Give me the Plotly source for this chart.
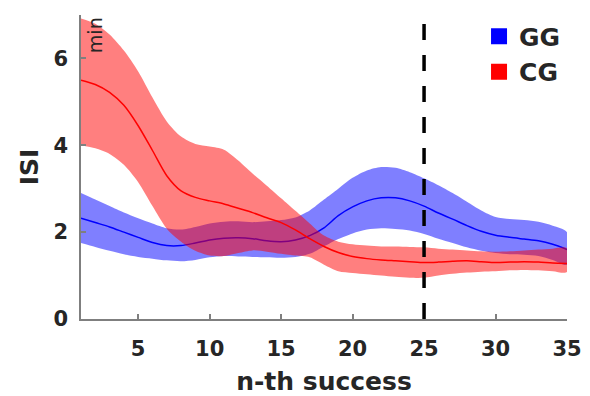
import plotly.graph_objects as go

# ---- data ----
n_success = list(range(1, 36))

gg_mean = [2.32, 2.22, 2.12, 2.00, 1.88, 1.76, 1.69, 1.69, 1.75, 1.82, 1.86, 1.87, 1.85, 1.80, 1.78,
           1.82, 1.92, 2.10, 2.38, 2.58, 2.72, 2.79, 2.79, 2.72, 2.60, 2.44, 2.30, 2.15, 2.02, 1.93,
           1.88, 1.84, 1.80, 1.72, 1.60]
gg_upper = [2.90, 2.75, 2.60, 2.45, 2.32, 2.20, 2.09, 2.06, 2.12, 2.20, 2.24, 2.25, 2.23, 2.25, 2.28,
            2.34, 2.50, 2.75, 3.00, 3.25, 3.42, 3.50, 3.48, 3.38, 3.24, 3.08, 2.90, 2.70, 2.50, 2.35,
            2.30, 2.28, 2.24, 2.15, 2.00]
gg_lower = [1.75, 1.66, 1.57, 1.49, 1.43, 1.39, 1.35, 1.33, 1.36, 1.42, 1.45, 1.44, 1.43, 1.42, 1.41,
            1.43, 1.50, 1.67, 1.84, 1.97, 2.06, 2.09, 2.07, 2.04, 1.96, 1.85, 1.75, 1.65, 1.57, 1.52,
            1.49, 1.48, 1.45, 1.36, 1.25]

cg_mean = [5.50, 5.40, 5.22, 4.92, 4.45, 3.88, 3.30, 2.95, 2.80, 2.72, 2.65, 2.55, 2.45, 2.33, 2.22,
           2.05, 1.85, 1.67, 1.53, 1.44, 1.39, 1.36, 1.34, 1.32, 1.30, 1.31, 1.33, 1.34, 1.32, 1.30,
           1.31, 1.32, 1.31, 1.29, 1.28]
cg_upper = [6.92, 6.80, 6.55, 6.18, 5.70, 5.10, 4.55, 4.20, 4.03, 3.97, 3.90, 3.65, 3.35, 3.07, 2.78,
            2.49, 2.20, 1.92, 1.78, 1.72, 1.69, 1.67, 1.67, 1.66, 1.65, 1.62, 1.60, 1.58, 1.56, 1.55,
            1.56, 1.58, 1.60, 1.62, 1.63]
cg_lower = [4.00, 3.93, 3.80, 3.55, 3.15, 2.60, 2.08, 1.78, 1.57, 1.46, 1.45, 1.52, 1.58, 1.55, 1.50,
            1.46, 1.42, 1.25, 1.10, 1.06, 1.03, 1.00, 0.97, 0.95, 0.95, 1.00, 1.04, 1.07, 1.09, 1.10,
            1.12, 1.13, 1.12, 1.10, 1.08]

marker_x = 25
x_ticks = [5, 10, 15, 20, 25, 30, 35]
y_ticks = [0, 2, 4, 6]

FONT = "DejaVu Sans"
TXT = "#262626"
AX = "#7f7f7f"

fig = go.Figure()


def add_series(name, mean, upper, lower, band, line):
    fig.add_trace(go.Scatter(
        x=n_success + n_success[::-1], y=upper + lower[::-1],
        fill="toself", fillcolor=band, line=dict(width=0, shape="spline", smoothing=0.8),
        mode="lines", hoverinfo="skip", showlegend=False))
    fig.add_trace(go.Scatter(
        x=n_success, y=mean, mode="lines",
        line=dict(color=line, width=1.5, shape="spline", smoothing=0.8),
        showlegend=False, name=name))


add_series("GG", gg_mean, gg_upper, gg_lower, "rgba(0,0,255,0.5)", "#0000ff")
add_series("CG", cg_mean, cg_upper, cg_lower, "rgba(255,0,0,0.5)", "#ff0000")

# legend entries
for name, col in [("GG", "#0000ff"), ("CG", "#ff0000")]:
    fig.add_trace(go.Scatter(x=[None], y=[None], mode="markers", name=name,
                             marker=dict(symbol="square", size=16, color=col)))

fig.add_shape(type="line", x0=marker_x, x1=marker_x, y0=0, y1=7, xref="x", yref="y",
              line=dict(color="black", width=3.5, dash="16px,15px"))

fig.add_annotation(text="min", xref="paper", yref="paper", x=0.029, y=0.934,
                   xanchor="center", yanchor="middle",
                   showarrow=False, textangle=-90,
                   font=dict(family=FONT, size=19, color=TXT))

# the page body has an 8px margin, so the figure is drawn 8px smaller and offset
fig.update_layout(
    width=582, height=388,
    margin=dict(l=72.5, r=23, t=7, b=77, autoexpand=False),
    plot_bgcolor="white", paper_bgcolor="white",
    font=dict(family=FONT, color=TXT),
    showlegend=True,
    legend=dict(x=0.819, y=1.005, xanchor="left", yanchor="top",
                bgcolor="rgba(0,0,0,0)",
                font=dict(family=FONT, size=25, color=TXT, weight="bold"),
                itemsizing="trace", tracegroupgap=0),
    xaxis=dict(range=[1, 35], tickvals=x_ticks, ticks="inside", ticklen=5, tickwidth=1.5,
               tickcolor=AX, showline=True, linecolor=AX, linewidth=1.5, showgrid=False,
               zeroline=False, ticklabelstandoff=10, automargin=False,
               tickfont=dict(family=FONT, size=21, color=TXT, weight="bold"),
               title=dict(text="n-th success", standoff=14,
                          font=dict(family=FONT, size=25, color=TXT, weight="bold"))),
    yaxis=dict(range=[0, 7], tickvals=y_ticks, ticks="inside", ticklen=5, tickwidth=1.5,
               tickcolor=AX, showline=True, linecolor=AX, linewidth=1.5, showgrid=False,
               zeroline=False, ticklabelstandoff=7, automargin=False,
               tickfont=dict(family=FONT, size=21, color=TXT, weight="bold"),
               title=dict(text="ISI", standoff=8,
                          font=dict(family=FONT, size=25, color=TXT, weight="bold"))),
)

fig.write_html("out.html")
